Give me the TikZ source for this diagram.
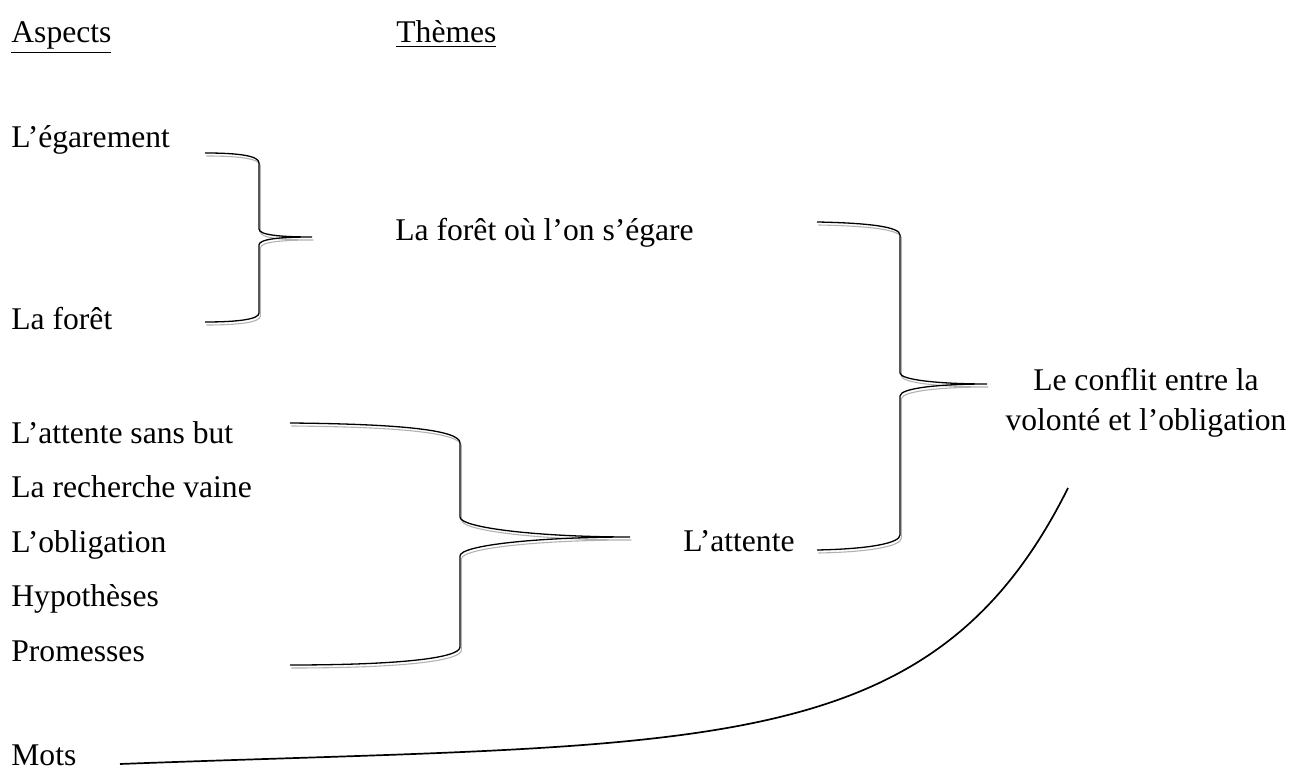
\documentclass[tikz,border=0pt]{standalone}
\usepackage{fontspec}
\setmainfont{Liberation Serif}
\begin{document}
\begin{tikzpicture}[x=0.5pt,y=-0.5pt,
  lbl/.style={anchor=base west,inner sep=0pt,font=\fontsize{15.8}{19}\selectfont},
  brk/.style={line width=0.65pt,black},
  brkshadow/.style={line width=0.55pt,black!30},
  curveline/.style={line width=0.85pt,black}]
\useasboundingbox (0,0) rectangle (1291,769);
% headings
\node[lbl] (asp) at (11,43) {\underline{Aspects}};
\node[lbl] (the) at (396,43) {\underline{Thèmes}};
% aspects
\node[lbl] (ega) at (11,148) {L’égarement};
\node[lbl] (foret) at (11,330) {La forêt};
\node[lbl] (asb) at (11,444) {L’attente sans but};
\node[lbl] (rv) at (11,498) {La recherche vaine};
\node[lbl] (obl) at (11,553) {L’obligation};
\node[lbl] (hyp) at (11,607) {Hypothèses};
\node[lbl] (pro) at (11,662) {Promesses};
\node[lbl] (mots) at (11,765) {Mots};
% themes
\node[lbl] (fos) at (395,241) {La forêt où l’on s’égare};
\node[lbl] (att) at (683,552) {L’attente};
\node[lbl,anchor=base,align=center] (conf) at (1146,431) {Le conflit entre la\\[1pt]volonté et l’obligation};
% braces
\foreach \st/\dx/\dy in {brkshadow/1.4/3, brk/0/0}{
  \begin{scope}[shift={(\dx,\dy)}]
  \draw[\st] (205,153) .. controls (240,153) and (259,156) .. (259,163) -- (259,229)
     .. controls (259,235) and (280,237) .. (312,237)
     .. controls (280,237) and (259,239) .. (259,245) -- (259,313)
     .. controls (259,319) and (240,322) .. (205,322);
  \draw[\st] (290,423) .. controls (400,424) and (460,430) .. (460,443) -- (460,517)
     .. controls (460,528) and (540,537) .. (630,537)
     .. controls (540,537) and (460,545) .. (460,556) -- (460,647)
     .. controls (460,658) and (400,665) .. (290,665);
  \draw[\st] (817,222) .. controls (870,223) and (900,227) .. (900,235) -- (900,373)
     .. controls (900,380) and (940,384) .. (987,384)
     .. controls (940,384) and (900,388) .. (900,396) -- (900,535)
     .. controls (900,543) and (870,549) .. (817,550);
  \end{scope}
}
% long curve
\coordinate (cs) at (120,764);
\coordinate (ce) at (1068,488);
\draw[curveline] (cs) .. controls (700,742) and (930,765) .. (ce);
\end{tikzpicture}
\end{document}
